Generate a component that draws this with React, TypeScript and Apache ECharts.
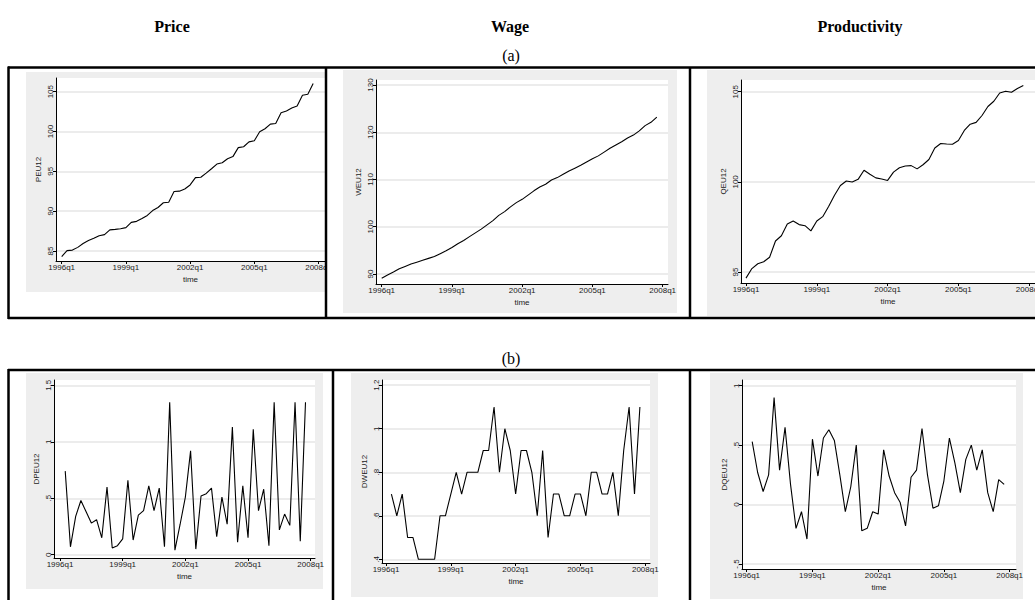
import React, { useEffect, useRef } from 'react';
import * as echarts from 'echarts';

// ---------- data ----------
const columnTitles = ['Price', 'Wage', 'Productivity'];
const rowLabels = ['(a)', '(b)'];

const xTickValues = [0, 12, 24, 36, 48];
const xTickLabels = ['1996q1', '1999q1', '2002q1', '2005q1', '2008q1'];

// levels, 1996q1 .. 2007q4
const peu12 = [84.30, 85.04, 85.11, 85.45, 85.93, 86.31, 86.59, 86.90, 87.05, 87.65, 87.71, 87.79, 87.93, 88.59, 88.72, 89.07, 89.46, 90.07, 90.46, 91.05, 91.12, 92.47, 92.51, 92.78, 93.29, 94.21, 94.26, 94.78, 95.32, 95.91, 96.07, 96.58, 96.85, 97.98, 98.09, 98.70, 98.85, 99.96, 100.35, 100.93, 101.01, 102.36, 102.58, 102.94, 103.20, 104.55, 104.67, 106.02];
const weu12 = [89.1, 89.8, 90.4, 91.1, 91.6, 92.1, 92.5, 92.9, 93.3, 93.7, 94.3, 94.9, 95.6, 96.4, 97.1, 97.9, 98.7, 99.5, 100.4, 101.3, 102.4, 103.2, 104.2, 105.1, 105.8, 106.7, 107.6, 108.4, 109.0, 109.9, 110.4, 111.1, 111.8, 112.4, 113.0, 113.7, 114.4, 115.0, 115.8, 116.6, 117.3, 118.0, 118.8, 119.4, 120.3, 121.4, 122.1, 123.2];
const qeu12 = [94.66, 95.19, 95.46, 95.57, 95.82, 96.72, 97.01, 97.66, 97.83, 97.63, 97.57, 97.28, 97.83, 98.07, 98.63, 99.26, 99.80, 100.05, 99.99, 100.14, 100.64, 100.42, 100.22, 100.16, 100.08, 100.54, 100.78, 100.88, 100.90, 100.72, 100.95, 101.24, 101.88, 102.13, 102.10, 102.09, 102.29, 102.85, 103.20, 103.30, 103.68, 104.18, 104.47, 104.93, 105.03, 104.97, 105.18, 105.35];

// differences, 1996q2 .. 2007q4
const dpeu12 = [0.74, 0.07, 0.34, 0.48, 0.38, 0.28, 0.31, 0.15, 0.60, 0.06, 0.08, 0.14, 0.66, 0.13, 0.35, 0.39, 0.61, 0.39, 0.59, 0.07, 1.35, 0.04, 0.27, 0.51, 0.92, 0.05, 0.52, 0.54, 0.59, 0.16, 0.51, 0.27, 1.13, 0.11, 0.61, 0.15, 1.11, 0.39, 0.58, 0.08, 1.35, 0.22, 0.36, 0.26, 1.35, 0.12, 1.35];
const dweu12 = [0.7, 0.6, 0.7, 0.5, 0.5, 0.4, 0.4, 0.4, 0.4, 0.6, 0.6, 0.7, 0.8, 0.7, 0.8, 0.8, 0.8, 0.9, 0.9, 1.1, 0.8, 1.0, 0.9, 0.7, 0.9, 0.9, 0.8, 0.6, 0.9, 0.5, 0.7, 0.7, 0.6, 0.6, 0.7, 0.7, 0.6, 0.8, 0.8, 0.7, 0.7, 0.8, 0.6, 0.9, 1.1, 0.7, 1.1];
const dqeu12 = [0.53, 0.27, 0.11, 0.25, 0.90, 0.29, 0.65, 0.17, -0.20, -0.06, -0.29, 0.55, 0.24, 0.56, 0.63, 0.54, 0.25, -0.06, 0.15, 0.50, -0.22, -0.20, -0.06, -0.08, 0.46, 0.24, 0.10, 0.02, -0.18, 0.23, 0.29, 0.64, 0.25, -0.03, -0.01, 0.20, 0.56, 0.35, 0.10, 0.38, 0.50, 0.29, 0.46, 0.10, -0.06, 0.21, 0.17];

const peuTicks = [85, 90, 95, 100, 105];
const peuTickLabels = ['85', '90', '95', '100', '105'];
const weuTicks = [90, 100, 110, 120, 130];
const weuTickLabels = ['90', '100', '110', '120', '130'];
const qeuTicks = [95, 100, 105];
const qeuTickLabels = ['95', '100', '105'];
const dpeuTicks = [0, 0.5, 1, 1.5];
const dpeuTickLabels = ['0', '.5', '1', '1.5'];
const dweuTicks = [0.4, 0.6, 0.8, 1, 1.2];
const dweuTickLabels = ['.4', '.6', '.8', '1', '1.2'];
const dqeuTicks = [-0.5, 0, 0.5, 1];
const dqeuTickLabels = ['-.5', '0', '.5', '1'];

// ---------- layout ----------
type Panel = {
  name: string;
  values: number[];
  start: number;
  ticks: number[];
  tickLabels: string[];
  yMin: number; yMax: number; xMin: number; xMax: number;
  plot: number[]; // left, top, right, bottom
  bg: number[];
};

const panels: Panel[] = [
  { name: 'PEU12', values: peu12, start: 0, ticks: peuTicks, tickLabels: peuTickLabels,
    yMin: 83.74, yMax: 106.72, xMin: -1.065, xMax: 49.21, plot: [56, 78, 325, 261], bg: [26, 72, 325, 292] },
  { name: 'WEU12', values: weu12, start: 0, ticks: weuTicks, tickLabels: weuTickLabels,
    yMin: 87.88, yMax: 131.06, xMin: -0.974, xMax: 48.91, plot: [376, 80, 668, 284], bg: [343, 70, 677, 313] },
  { name: 'QEU12', values: qeu12, start: 0, ticks: qeuTicks, tickLabels: qeuTickLabels,
    yMin: 94.39, yMax: 105.65, xMin: -0.847, xMax: 48.98, plot: [741, 80, 1035, 283], bg: [707, 70, 1035, 316] },
  { name: 'DPEU12', values: dpeu12, start: 1, ticks: dpeuTicks, tickLabels: dpeuTickLabels,
    yMin: -0.029, yMax: 1.547, xMin: -1.15, xMax: 48.82, plot: [54, 380, 315, 558], bg: [26, 373, 323, 589] },
  { name: 'DWEU12', values: dweu12, start: 1, ticks: dweuTicks, tickLabels: dweuTickLabels,
    yMin: 0.383, yMax: 1.224, xMin: -0.741, xMax: 48.87, plot: [382, 380, 650, 563], bg: [351, 373, 658, 597] },
  { name: 'DQEU12', values: dqeu12, start: 1, ticks: dqeuTicks, tickLabels: dqeuTickLabels,
    yMin: -0.542, yMax: 1.048, xMin: -0.859, xMax: 49.16, plot: [742, 380, 1016, 569], bg: [710, 373, 1023, 599] },
];

const SANS = '"Liberation Sans", Arial, Helvetica, sans-serif';
const SERIF = '"Liberation Serif", "Times New Roman", serif';
const TXT = '#1a1a1a';
const FS = 8;

function buildOption() {
  const grid = panels.map((p) => ({
    left: p.plot[0], top: p.plot[1], width: p.plot[2] - p.plot[0], height: p.plot[3] - p.plot[1],
    show: true, backgroundColor: '#ffffff', borderWidth: 0, containLabel: false,
    outerBoundsMode: 'none',
  }));

  const xAxis = panels.map((p, i) => ({
    type: 'value', gridIndex: i, min: p.xMin, max: p.xMax,
    axisLine: { show: true, onZero: false, lineStyle: { color: '#000', width: 1 } },
    axisTick: { show: true, length: 3, customValues: xTickValues, lineStyle: { color: '#000', width: 1 } },
    axisLabel: {
      show: true, customValues: xTickValues, margin: 2, fontSize: FS, color: TXT, fontFamily: SANS,
      hideOverlap: false,
      formatter: (v: number) => { const k = xTickValues.indexOf(Math.round(v)); return k >= 0 ? xTickLabels[k] : ''; },
    },
    splitLine: { show: false },
    name: 'time', nameLocation: 'middle', nameGap: 14,
    nameTextStyle: { fontSize: FS, color: TXT, fontFamily: SANS },
  }));

  const yAxis = panels.map((p, i) => ({
    type: 'value', gridIndex: i, min: p.yMin, max: p.yMax,
    axisLine: { show: true, onZero: false, lineStyle: { color: '#000', width: 1 } },
    axisTick: { show: true, length: 3, customValues: p.ticks, lineStyle: { color: '#000', width: 1 } },
    axisLabel: {
      show: true, customValues: p.ticks, rotate: 90, margin: 2, fontSize: FS, color: TXT, fontFamily: SANS,
      formatter: (v: number) => {
        let best = 0;
        p.ticks.forEach((t, k) => { if (Math.abs(t - v) < Math.abs(p.ticks[best] - v)) best = k; });
        return p.tickLabels[best];
      },
    },
    splitLine: { show: true, lineStyle: { color: '#e6e6e6', width: 1.5 } },
    name: p.name, nameLocation: 'middle', nameGap: 14, nameRotate: 90,
    nameTextStyle: { fontSize: FS, color: TXT, fontFamily: SANS },
  }));

  const series = panels.map((p, i) => ({
    type: 'line', xAxisIndex: i, yAxisIndex: i,
    data: p.values.map((v, k) => [k + p.start, v]),
    showSymbol: false, symbol: 'none',
    lineStyle: { color: '#000', width: 1.1 },
    z: 3,
  }));

  const graphic: any[] = [];
  panels.forEach((p) => {
    graphic.push({
      type: 'rect', z: -5, silent: true,
      shape: { x: p.bg[0], y: p.bg[1], width: p.bg[2] - p.bg[0], height: p.bg[3] - p.bg[1] },
      style: { fill: '#eeeeee' },
    });
  });

  const colX = [172, 510, 860];
  columnTitles.forEach((t, i) => {
    graphic.push({
      type: 'text', x: colX[i], y: 26, z: 100,
      style: { text: t, font: `bold 16px ${SERIF}`, fill: '#000', align: 'center', verticalAlign: 'middle', textAlign: 'center', textVerticalAlign: 'middle' },
    });
  });
  const rowY = [55, 358];
  rowLabels.forEach((t, i) => {
    graphic.push({
      type: 'text', x: 511, y: rowY[i], z: 100,
      style: { text: t, font: `16px ${SERIF}`, fill: '#000', align: 'center', verticalAlign: 'middle', textAlign: 'center', textVerticalAlign: 'middle' },
    });
  });

  // clip overflow of the first panel at the divider
  graphic.push({ type: 'rect', z: 50, silent: true, shape: { x: 327, y: 69, width: 15, height: 248 }, style: { fill: '#ffffff' } });

  const lw = 2.5;
  const line = (x1: number, y1: number, x2: number, y2: number) => ({
    type: 'line', z: 100, silent: true, shape: { x1, y1, x2, y2 }, style: { stroke: '#000', lineWidth: lw },
  });
  // top box
  graphic.push(line(8, 67.5, 1035, 67.5));
  graphic.push(line(8, 318, 1035, 318));
  graphic.push(line(8.5, 66.5, 8.5, 319));
  graphic.push(line(326, 67, 326, 318));
  graphic.push(line(690, 67, 690, 318));
  // bottom box
  graphic.push(line(8, 370, 1035, 370));
  graphic.push(line(8.5, 369, 8.5, 600));
  graphic.push(line(333, 370, 333, 600));
  graphic.push(line(690, 370, 690, 600));

  return {
    animation: false,
    backgroundColor: '#ffffff',
    grid, xAxis, yAxis, series, graphic,
  };
}

export default function App() {
  const ref = useRef<HTMLDivElement>(null);
  useEffect(() => {
    if (!ref.current) return;
    const chart = echarts.init(ref.current, undefined, { renderer: 'svg' });
    chart.setOption(buildOption() as any);
    return () => chart.dispose();
  }, []);
  return <div ref={ref} style={{ position: 'absolute', left: 0, top: 0, width: 1035, height: 600 }} />;
}
